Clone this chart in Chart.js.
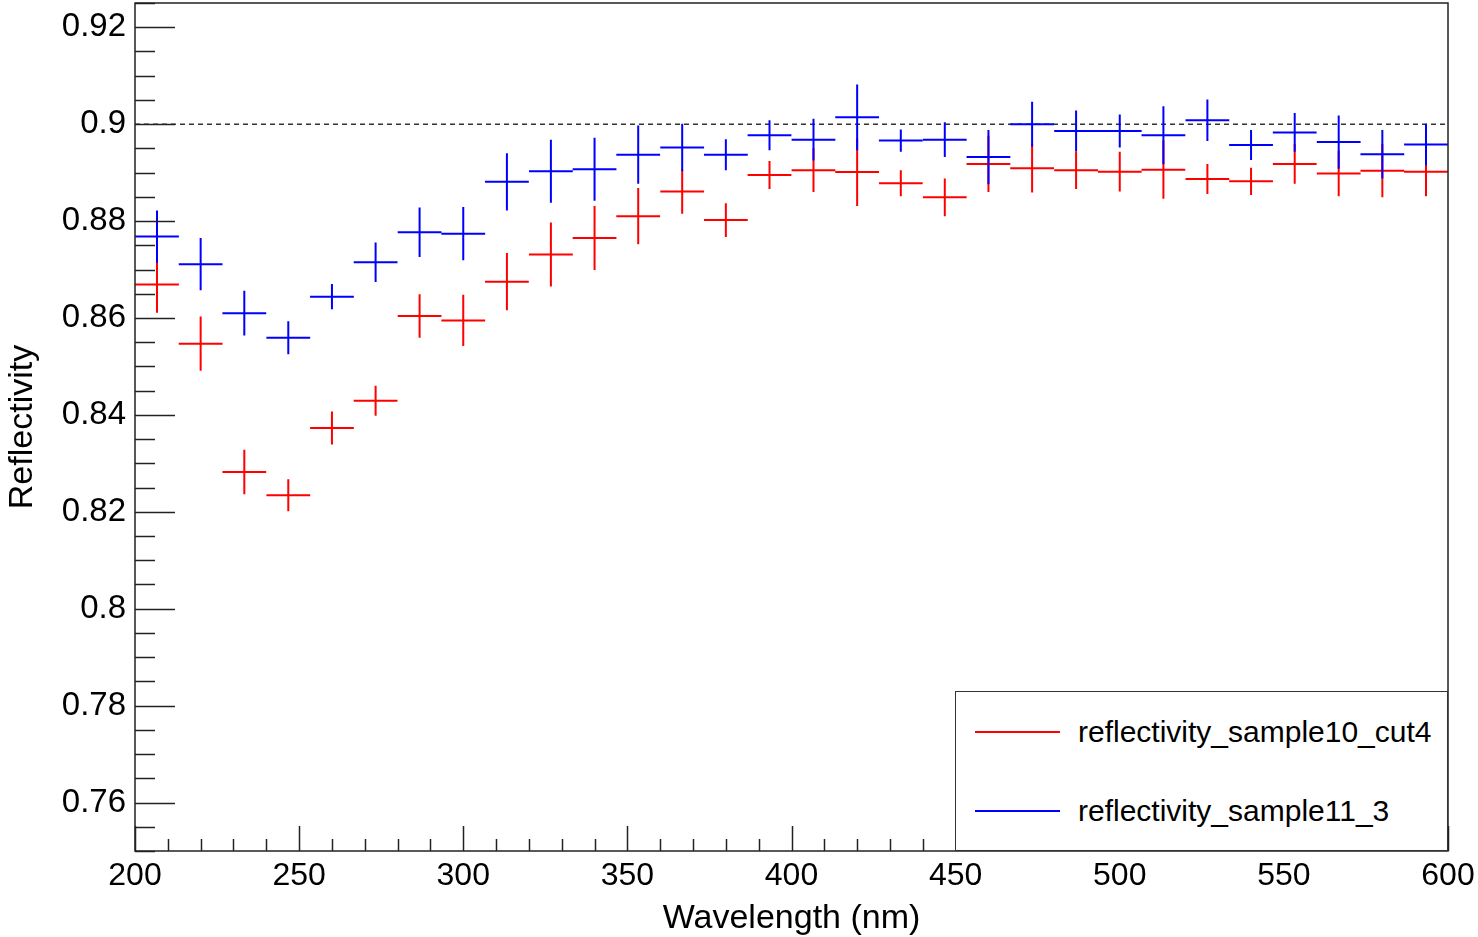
<!DOCTYPE html>
<html>
<head>
<meta charset="utf-8">
<title>Reflectivity</title>
<script src="https://cdn.jsdelivr.net/npm/chart.js@4.4.0/dist/chart.umd.min.js"></script>
<style>
  html, body { margin: 0; padding: 0; background: #fff; }
  #wrap { position: relative; width: 1478px; height: 937px; }
  #legend {
    position: absolute; left: 955px; top: 691px; width: 493px; height: 160px;
    box-sizing: border-box; border: 1.5px solid #333; background: #fff;
    font-family: "Liberation Sans", Arial, Helvetica, sans-serif; font-size: 30px; color: #000;
  }
  #legend .row { position: absolute; left: 0; height: 36px; display: flex; align-items: center; white-space: nowrap; }
  #legend .swatch { width: 85px; height: 2.5px; margin-left: 19px; margin-right: 18px; }
</style>
</head>
<body>
<div id="wrap">
  <canvas id="chart" width="1478" height="937"></canvas>
  <div id="legend">
    <div class="row" style="top:22px"><span class="swatch" style="background:#ff0000"></span>reflectivity_sample10_cut4</div>
    <div class="row" style="top:101px"><span class="swatch" style="background:#0000ff"></span>reflectivity_sample11_3</div>
  </div>
</div>
<script>
// bin centres (nm), bins are 13.33 nm wide
var wavelength = [206.7, 220.0, 233.3, 246.7, 260.0, 273.3, 286.7, 300.0, 313.3, 326.7,
                  340.0, 353.3, 366.7, 380.0, 393.3, 406.7, 420.0, 433.3, 446.7, 460.0,
                  473.3, 486.7, 500.0, 513.3, 526.7, 540.0, 553.3, 566.7, 580.0, 593.3];
var binHalfWidth = 6.67;

var sample10 = [0.8669, 0.8547, 0.8282, 0.8234, 0.8373, 0.8429, 0.8604, 0.8595, 0.8675, 0.8731,
                0.8765, 0.8810, 0.8861, 0.8802, 0.8895, 0.8905, 0.8901, 0.8878, 0.8849, 0.8918,
                0.8909, 0.8905, 0.8902, 0.8906, 0.8887, 0.8882, 0.8918, 0.8898, 0.8904, 0.8902];
var sample10Err = [0.0058, 0.0056, 0.0046, 0.0033, 0.0034, 0.0031, 0.0045, 0.0053, 0.0059, 0.0066,
                   0.0066, 0.0058, 0.0046, 0.0035, 0.0029, 0.0045, 0.0070, 0.0027, 0.0039, 0.0058,
                   0.0050, 0.0039, 0.0041, 0.0060, 0.0031, 0.0028, 0.0041, 0.0047, 0.0055, 0.0051];

var sample11 = [0.8768, 0.8711, 0.8610, 0.8559, 0.8644, 0.8715, 0.8777, 0.8774, 0.8881, 0.8903,
                0.8907, 0.8937, 0.8952, 0.8937, 0.8977, 0.8968, 0.9014, 0.8966, 0.8968, 0.8932,
                0.9000, 0.8986, 0.8986, 0.8977, 0.9008, 0.8957, 0.8983, 0.8963, 0.8938, 0.8958];
var sample11Err = [0.0054, 0.0054, 0.0046, 0.0034, 0.0026, 0.0041, 0.0051, 0.0055, 0.0059, 0.0065,
                   0.0065, 0.0060, 0.0049, 0.0032, 0.0031, 0.0043, 0.0068, 0.0023, 0.0036, 0.0056,
                   0.0046, 0.0042, 0.0034, 0.0060, 0.0043, 0.0031, 0.0040, 0.0055, 0.0050, 0.0043];

var referenceLevel = 0.9;
var xTickLabels = [200, 250, 300, 350, 400, 450, 500, 550, 600];
var yTickLabels = [0.76, 0.78, 0.80, 0.82, 0.84, 0.86, 0.88, 0.90, 0.92];

var FONT = '"Liberation Sans", Arial, Helvetica, sans-serif';

/**
 * Turns values + errors into line segments (a "+" per bin), broken by null points
 */
function crosses(values, errors) {
    var pts = [];
    wavelength.forEach((w, i) => {
        pts.push({x: w - binHalfWidth, y: values[i]}, {x: w + binHalfWidth, y: values[i]}, {x: w, y: null});
        pts.push({x: w, y: values[i] - errors[i]}, {x: w, y: values[i] + errors[i]}, {x: w, y: null});
    });
    return pts;
}

// frame + ROOT style ticks drawn inside the pad
var frameTicks = {
    id: 'frameTicks',
    afterDatasetsDraw(chart) {
        var ctx = chart.ctx, a = chart.chartArea, xs = chart.scales.x, ys = chart.scales.y;
        ctx.save();
        ctx.strokeStyle = '#222';
        ctx.lineWidth = 1.5;
        ctx.beginPath();
        // y: minor every 0.005, major every 0.02
        for (var k = 150; k <= 185; k++) {
            var v = k * 0.005;
            var py = Math.round(ys.getPixelForValue(v)) + 0.5;
            var len = (k % 4 === 0) ? 40 : 20;
            ctx.moveTo(a.left, py);
            ctx.lineTo(a.left + len, py);
        }
        // x: minor every 10, major every 50
        for (var w = 200; w <= 600; w += 10) {
            var px = Math.round(xs.getPixelForValue(w)) + 0.5;
            var l = (w % 50 === 0) ? 25 : 12;
            ctx.moveTo(px, a.bottom);
            ctx.lineTo(px, a.bottom - l);
        }
        ctx.stroke();
        ctx.strokeRect(a.left, a.top, a.right - a.left, a.bottom - a.top);
        ctx.restore();
    }
};

new Chart(document.getElementById('chart'), {
    type: 'scatter',
    data: {
        datasets: [{
            label: 'reference',
            data: [{x: 200, y: referenceLevel}, {x: 600, y: referenceLevel}],
            showLine: true,
            borderColor: '#333',
            borderWidth: 1.5,
            borderDash: [5, 4],
            pointRadius: 0,
            order: 3
        }, {
            label: 'reflectivity_sample10_cut4',
            data: crosses(sample10, sample10Err),
            showLine: true,
            spanGaps: false,
            borderColor: '#ff0000',
            borderWidth: 2,
            pointRadius: 0,
            order: 2
        }, {
            label: 'reflectivity_sample11_3',
            data: crosses(sample11, sample11Err),
            showLine: true,
            spanGaps: false,
            borderColor: '#0000ff',
            borderWidth: 2,
            pointRadius: 0,
            order: 1
        }]
    },
    options: {
        responsive: false,
        animation: false,
        layout: { padding: { left: 0, right: 30, top: 3, bottom: 0 } },
        plugins: { legend: { display: false }, tooltip: { enabled: false } },
        scales: {
            x: {
                type: 'linear', min: 200, max: 600,
                grid: { display: false, drawTicks: false },
                border: { display: false },
                afterBuildTicks: s => { s.ticks = xTickLabels.map(v => ({value: v})); },
                afterFit: s => { s.height = 86; s.paddingLeft = 0; s.paddingRight = 0; },
                ticks: { color: '#000', font: { family: FONT, size: 32 }, padding: 6, maxRotation: 0, autoSkip: false },
                title: { display: true, text: 'Wavelength (nm)', color: '#000', font: { family: FONT, size: 34 }, padding: { top: 0, bottom: -2 } }
            },
            y: {
                type: 'linear', min: 0.75, max: 0.925,
                grid: { display: false, drawTicks: false },
                border: { display: false },
                afterBuildTicks: s => { s.ticks = yTickLabels.map(v => ({value: v})); },
                afterFit: s => { s.width = 135; s.paddingTop = 0; s.paddingBottom = 0; },
                ticks: {
                    color: '#000', font: { family: FONT, size: 33 }, padding: 9, autoSkip: false,
                    callback: v => String(Number(v.toFixed(3)))
                },
                title: { display: true, text: 'Reflectivity', color: '#000', font: { family: FONT, size: 34 }, padding: { top: 2, bottom: 0 } }
            }
        }
    },
    plugins: [frameTicks]
});
</script>
</body>
</html>
